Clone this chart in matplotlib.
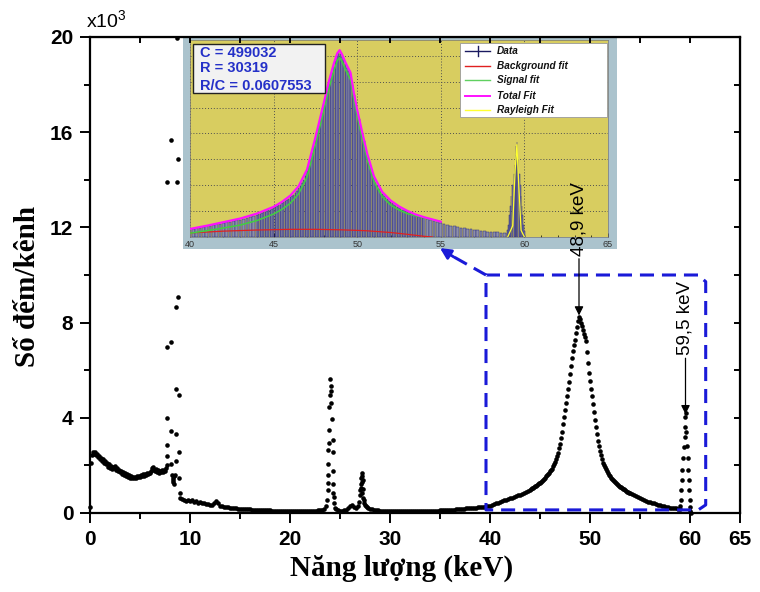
import numpy as np
import matplotlib
matplotlib.use('Agg')
import matplotlib.pyplot as plt
from matplotlib.patches import Rectangle
from matplotlib.lines import Line2D

plt.rcParams['font.family'] = ['Liberation Sans', 'DejaVu Sans']
plt.rcParams['mathtext.default'] = 'regular'

# ---------------- data (counts in units of 10^3 per channel) ----------------
low_start, low_step = 0.0, 0.1
low_counts = [0.25, 2.10, 2.45, 2.58, 2.50, 2.55, 2.42, 2.48, 2.35, 2.40,
              2.28, 2.33, 2.20, 2.25, 2.12, 2.18, 2.05, 2.12, 1.95, 2.05,
              1.88, 1.98, 1.85, 1.95, 1.90, 1.98, 1.82, 1.90, 1.75, 1.82,
              1.72, 1.78, 1.65, 1.72, 1.60, 1.66, 1.55, 1.62, 1.52, 1.58,
              1.48, 1.55, 1.47, 1.53, 1.46, 1.52, 1.48, 1.55, 1.50, 1.56,
              1.52, 1.58, 1.55, 1.62, 1.57, 1.63, 1.60, 1.68, 1.62, 1.70,
              1.68, 1.78, 1.90, 1.95, 1.82, 1.75, 1.85, 1.72, 1.80, 1.70,
              1.78, 1.72, 1.80, 1.74, 1.82, 1.78, 1.88]

cu_energy = [7.67, 7.67, 7.67, 7.67, 7.67, 7.70, 8.07, 8.10, 8.10, 8.10, 8.20,
             8.25, 8.30, 8.30, 8.35, 8.40, 8.67, 8.67, 8.60, 8.60, 8.57, 8.57,
             8.50, 8.83, 8.83, 8.90, 8.90, 8.90, 8.97]
cu_counts = [13.92, 6.99, 3.98, 2.86, 2.40, 2.00, 15.67, 7.20, 3.44, 2.06, 1.60,
             1.40, 1.30, 1.45, 1.55, 1.20, 19.94, 13.92, 8.64, 5.20, 3.30, 2.20,
             1.60, 14.86, 9.09, 4.96, 2.55, 1.48, 0.85]

mid_start, mid_step = 9.0, 0.2
mid_counts = [0.62, 0.58, 0.55, 0.52, 0.56, 0.50, 0.53, 0.47, 0.50, 0.44,
              0.46, 0.40, 0.42, 0.37, 0.36, 0.33, 0.35, 0.42, 0.50, 0.40,
              0.30, 0.28, 0.27, 0.25, 0.24, 0.22, 0.21, 0.20, 0.19, 0.18,
              0.18, 0.17, 0.16, 0.16, 0.15, 0.15, 0.14, 0.14, 0.13, 0.13,
              0.12, 0.12, 0.12, 0.11, 0.11, 0.11, 0.10, 0.10, 0.10, 0.10,
              0.09, 0.09, 0.09, 0.09, 0.09, 0.08, 0.08, 0.08, 0.08, 0.08,
              0.08, 0.08, 0.08, 0.09, 0.09, 0.09, 0.09, 0.10, 0.10, 0.11,
              0.12, 0.14, 0.18]

p24_energy = [23.60, 23.70, 23.75, 23.77, 23.77, 23.80, 23.82, 23.85, 23.88,
              23.92, 23.95, 24.00, 24.05, 24.08, 24.12, 24.18, 24.25, 24.27,
              24.28, 24.27, 24.28, 24.35, 24.40, 24.50]
p24_counts = [0.30, 0.55, 0.97, 1.27, 1.60, 2.06, 2.65, 2.96, 3.49,
              4.47, 4.96, 5.62, 5.34, 5.14, 4.61, 3.94, 3.07, 2.58,
              1.78, 1.22, 0.83, 0.68, 0.40, 0.20]

gap_start, gap_step = 24.6, 0.2
gap_counts = [0.15, 0.12, 0.10, 0.10, 0.11, 0.13, 0.20, 0.30, 0.34, 0.25, 0.20, 0.30]

p27_energy = [26.90, 27.00, 27.00, 27.05, 27.10, 27.10, 27.15, 27.15, 27.20,
              27.20, 27.25, 27.25, 27.30, 27.35, 27.40, 27.50, 27.60, 27.70]
p27_counts = [0.45, 0.75, 0.95, 1.20, 1.45, 1.05, 1.67, 1.30, 1.55,
              0.85, 1.38, 0.65, 1.00, 0.55, 0.42, 0.35, 0.30, 0.25]

flat_start, flat_step = 27.8, 0.2
flat_counts = [0.22, 0.18, 0.15, 0.13, 0.12, 0.11, 0.10, 0.10, 0.09, 0.09,
               0.08, 0.08, 0.08, 0.08, 0.07, 0.07, 0.07, 0.07, 0.07, 0.07,
               0.07, 0.07, 0.07, 0.08, 0.08, 0.08, 0.08, 0.08, 0.08, 0.09,
               0.09, 0.09, 0.09, 0.10, 0.10, 0.10, 0.11, 0.11, 0.12, 0.12,
               0.13, 0.13, 0.14, 0.14, 0.15, 0.16, 0.16, 0.17, 0.18, 0.19,
               0.19, 0.20, 0.21, 0.22, 0.23, 0.24, 0.25, 0.26, 0.27, 0.28,
               0.29]

tailL_start, tailL_step = 40.0, 0.2
tailL_counts = [0.30, 0.34, 0.38, 0.41, 0.44, 0.47, 0.50, 0.53, 0.56, 0.59,
                0.62, 0.65, 0.68, 0.71, 0.74, 0.77, 0.80, 0.84, 0.88, 0.93]

peak_start, peak_step = 44.0, 0.1
peak_counts = [0.98, 1.01, 1.03, 1.06, 1.09, 1.12, 1.15, 1.18, 1.21, 1.24,
               1.28, 1.32, 1.36, 1.40, 1.44, 1.49, 1.54, 1.59, 1.65, 1.70,
               1.76, 1.80, 1.86, 1.96, 2.06, 2.16, 2.28, 2.40, 2.54, 2.72,
               2.92, 3.15, 3.42, 3.72, 4.02, 4.33, 4.63, 4.93, 5.22, 5.52,
               5.85, 6.18, 6.50, 6.80, 7.05, 7.28, 7.55, 7.80, 8.05, 8.22,
               8.15, 7.98, 7.85, 7.70, 7.52, 7.38, 7.22, 6.75, 6.30, 5.90,
               5.55, 5.22, 4.90, 4.58, 4.25, 3.92, 3.60, 3.30, 3.02, 2.80,
               2.60, 2.42, 2.26, 2.12, 2.02, 1.92, 1.83, 1.75, 1.68, 1.61,
               1.55, 1.49, 1.44, 1.39, 1.34, 1.30, 1.26, 1.22, 1.18, 1.14,
               1.11, 1.08, 1.05, 1.02, 0.99, 0.96, 0.93, 0.90, 0.88, 0.86,
               0.83]

tailR_start, tailR_step = 54.2, 0.2
tailR_counts = [0.79, 0.75, 0.71, 0.67, 0.63, 0.59, 0.55, 0.51, 0.48, 0.45,
                0.42, 0.40, 0.37, 0.35, 0.32, 0.30, 0.28, 0.26, 0.24, 0.22,
                0.21, 0.20, 0.19, 0.18]

p59_energy = [58.95, 59.00, 59.05, 59.10, 59.15, 59.20, 59.30, 59.40, 59.45,
              59.50, 59.50, 59.55, 59.60, 59.70, 59.75, 59.80, 59.85, 59.90,
              59.95, 60.00, 60.00, 60.05]
p59_counts = [0.17, 0.30, 0.55, 0.97, 1.39, 1.81, 2.30, 2.79, 3.20,
              3.63, 4.05, 4.20, 3.40, 2.80, 2.30, 1.81, 1.39, 0.97,
              0.55, 0.27, 0.10, 0.02]

# inset fit curves
fit_energy = [40, 41, 42, 43, 44, 45, 45.5, 46, 46.5, 47, 47.5, 48, 48.3, 48.6,
              48.8, 48.95, 49.1, 49.3, 49.6, 49.8, 50.0, 50.3, 50.6, 51.0, 51.5,
              52.0, 52.5, 53.0, 53.5, 54.0, 55.0]
total_fit = [0.36, 0.50, 0.66, 0.82, 1.04, 1.34, 1.56, 1.84, 2.26, 3.00, 4.42,
             5.95, 6.90, 7.70, 8.15, 8.30, 8.10, 7.75, 7.30, 6.40, 5.65, 4.65,
             3.70, 2.70, 2.00, 1.62, 1.36, 1.16, 1.00, 0.88, 0.68]
signal_fit = [0.17, 0.28, 0.40, 0.53, 0.73, 1.02, 1.23, 1.50, 1.92, 2.66, 4.08,
              5.61, 6.57, 7.37, 7.82, 7.97, 7.78, 7.43, 6.99, 6.10, 5.36, 4.37,
              3.43, 2.46, 1.79, 1.42, 1.20, 1.04, 0.94, 0.85, 0.68]
bg_energy = [40, 42, 44, 46, 47.5, 49, 50.5, 52, 53, 54, 54.5]
bg_fit = [0.18, 0.26, 0.31, 0.34, 0.34, 0.32, 0.28, 0.20, 0.12, 0.03, 0.0]
ray_energy = [59.0, 59.3, 59.45, 59.55, 59.65, 59.8, 60.0]
ray_fit = [0.0, 0.5, 3.0, 4.1, 2.5, 0.3, 0.0]

inset_stats = ["C = 499032", "R = 30319", "R/C = 0.0607553"]
legend_labels = ["Data", "Background fit", "Signal fit", "Total Fit", "Rayleigh Fit"]

x_ticks = [0, 10, 20, 30, 40, 50, 60, 65]
y_ticks = [0, 4, 8, 12, 16, 20]

# ---------------- assemble channels ----------------
def seg(start, step, counts):
    e = start + step * np.arange(len(counts))
    return e, np.asarray(counts, float), np.full(len(counts), step)

segments = [
    seg(low_start, low_step, low_counts),
    (np.array(cu_energy), np.array(cu_counts), np.full(len(cu_counts), 0.05)),
    seg(mid_start, mid_step, mid_counts),
    (np.array(p24_energy), np.array(p24_counts), np.full(len(p24_counts), 0.05)),
    seg(gap_start, gap_step, gap_counts),
    (np.array(p27_energy), np.array(p27_counts), np.full(len(p27_counts), 0.05)),
    seg(flat_start, flat_step, flat_counts),
    seg(tailL_start, tailL_step, tailL_counts),
    seg(peak_start, peak_step, peak_counts),
    seg(tailR_start, tailR_step, tailR_counts),
    (np.array(p59_energy), np.array(p59_counts), np.full(len(p59_counts), 0.05)),
]
E = np.concatenate([s[0] for s in segments])
C = np.concatenate([s[1] for s in segments])
Wd = np.concatenate([s[2] for s in segments])

# ---------------- figure ----------------
W, H = 760, 592
fig = plt.figure(figsize=(W / 100, H / 100), dpi=100)

def rect(x0, y0, x1, y1):
    return [x0 / W, 1 - y1 / H, (x1 - x0) / W, (y1 - y0) / H]

ax = fig.add_axes(rect(90, 37, 740, 513))
frame = fig.add_axes(rect(183, 38, 617, 249))
ins = fig.add_axes(rect(190, 40, 608, 237))
frame.set_zorder(1)
ins.set_zorder(2)
ax.set_zorder(5)
ax.patch.set_visible(False)

# ---- main axes ----
ax.plot(E, C, 'o', color='black', ms=3.3, mew=0, clip_on=False)
ax.set_xlim(0, 65)
ax.set_ylim(0, 20)
ax.set_xticks(x_ticks)
ax.set_xticks([5, 15, 25, 35, 45, 55], minor=True)
ax.set_yticks(y_ticks)
ax.set_yticks([2, 6, 10, 14, 18], minor=True)
ax.tick_params(which='major', direction='out', length=7, width=1.4, pad=5,
               labelsize=15)
ax.tick_params(which='minor', direction='out', length=4, width=1.4)
for lab in ax.get_xticklabels() + ax.get_yticklabels():
    lab.set_fontweight('bold')
for s in ax.spines.values():
    s.set_linewidth(1.6)

top = ax.secondary_xaxis('top')
top.set_xticks(list(range(0, 66, 5)))
top.set_xticklabels([])
top.tick_params(direction='in', length=4.5, width=1.4)
right = ax.secondary_yaxis('right')
right.set_yticks(list(range(0, 21, 2)))
right.set_yticklabels([])
right.tick_params(direction='in', length=4.5, width=1.4)

ax.set_xlabel('Năng lượng (keV)', family='Liberation Serif', fontweight='bold',
              fontsize=21)
ax.xaxis.set_label_coords(0.48, -0.088)
ax.set_ylabel('Số đếm/kênh', family='Liberation Serif', fontweight='bold',
              fontsize=21)
ax.yaxis.set_label_coords(-0.076, 0.475)
ax.text(-0.006, 1.012, r'x10$^{3}$', transform=ax.transAxes, fontsize=14,
        ha='left', va='bottom')

# peak annotations
arrow = dict(arrowstyle='-|>', color='black', lw=0.9, mutation_scale=13,
             shrinkA=0, shrinkB=0)
ax.annotate('48,9 keV', xy=(48.9, 8.3), xytext=(48.9, 10.8), rotation=90,
            ha='center', va='bottom', fontsize=13.5, arrowprops=arrow)
ax.annotate('59,5 keV', xy=(59.55, 4.15), xytext=(59.55, 6.62), rotation=90,
            ha='center', va='bottom', fontsize=13.5, arrowprops=arrow)

# blue dashed zoom box
blue = '#1a1ad8'
bx = [60.8, 39.6, 39.6, 60.83, 61.57, 61.57, 60.8]
by = [10.0, 10.0, 0.13, 0.13, 0.34, 9.72, 10.0]
ax.plot(bx, by, color=blue, lw=2.2, dashes=(4.6, 2.6), clip_on=False)
ax.plot([39.6, 36.3], [10.0, 10.78], color=blue, lw=2.2, dashes=(4.6, 2.6))
ax.annotate('', xy=(35.0, 11.13), xytext=(36.4, 10.75),
            arrowprops=dict(arrowstyle='-|>', color=blue, lw=2.0,
                            mutation_scale=16, shrinkA=0, shrinkB=0))

# ---- inset frame ----
frame.set_facecolor('#abc3cd')
frame.set_xticks([])
frame.set_yticks([])
for s in frame.spines.values():
    s.set_visible(False)

# ---- inset plot ----
ins.set_facecolor('#d8cd60')
m = (E >= 39.9) & (E <= 62)
ins.bar(E[m], C[m], width=Wd[m] * 0.8, color='#8d8fa8', edgecolor='#2a2a80',
        linewidth=0.35, align='center', zorder=2)
ins.plot(bg_energy, bg_fit, color='#e02020', lw=0.9, zorder=3)
ins.plot(fit_energy, signal_fit, color='#40d040', lw=1.1, zorder=4)
ins.plot(fit_energy, total_fit, color='#ff10ff', lw=1.6, zorder=5)
ins.plot(ray_energy, ray_fit, color='#ffff30', lw=0.9, zorder=5)
ins.set_xlim(40, 65)
ins.set_ylim(0, 8.75)
ins.set_xticks([40, 45, 50, 55, 60, 65])
ins.set_xticks(list(range(41, 65)), minor=True)
ins.set_yticks([1.15, 2.3, 3.45, 4.6, 5.75, 6.9, 8.05])
ins.grid(True, which='major', linestyle=(0, (1, 2)), color='#505050', lw=0.7)
ins.set_axisbelow(True)
ins.tick_params(axis='y', left=False, labelleft=False)
ins.tick_params(axis='x', which='major', direction='in', length=3, width=0.6,
                pad=2, labelsize=6.5, labelcolor='#333333')
ins.tick_params(axis='x', which='minor', direction='in', length=1.5, width=0.5)
for s in ins.spines.values():
    s.set_linewidth(0.5)
    s.set_color('#777777')

# stats box
ins.add_patch(Rectangle((0.007, 0.731), 0.316, 0.249, transform=ins.transAxes,
                        facecolor='#f2f2f2', edgecolor='#222222', lw=1.0,
                        zorder=6))
for txt, yy in zip(inset_stats, [0.934, 0.858, 0.766]):
    ins.text(0.024, yy, txt, transform=ins.transAxes, color='#2430c8',
             fontsize=10.5, fontweight='bold', va='center', ha='left', zorder=7)

# legend box
ins.add_patch(Rectangle((0.646, 0.609), 0.352, 0.376, transform=ins.transAxes,
                        facecolor='white', edgecolor='#999999', lw=0.6,
                        zorder=6))
leg_colors = ['#1a1a60', '#e02020', '#60d060', '#ff10ff', '#ffff30']
leg_y = [0.944, 0.868, 0.797, 0.716, 0.645]
for lab, col, yy in zip(legend_labels, leg_colors, leg_y):
    ins.add_line(Line2D([0.658, 0.718], [yy, yy], transform=ins.transAxes,
                        color=col, lw=1.0 if lab != 'Total Fit' else 1.4,
                        zorder=7))
    ins.text(0.734, yy, lab, transform=ins.transAxes, fontsize=7.2,
             fontweight='bold', style='italic', va='center', ha='left',
             color='#111111', zorder=7)
ins.add_line(Line2D([0.688, 0.688], [0.944 - 0.025, 0.944 + 0.025],
                    transform=ins.transAxes, color='#1a1a60', lw=1.0, zorder=7))

fig.savefig('out.png', dpi=100, facecolor='white')
